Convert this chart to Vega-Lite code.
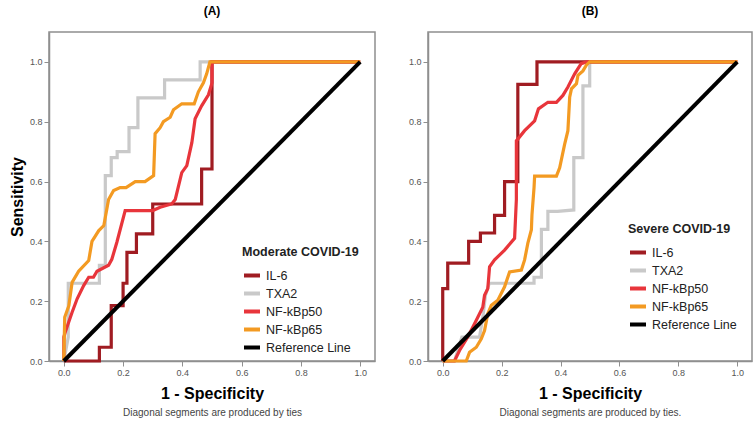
{
  "$schema": "https://vega.github.io/schema/vega-lite/v6.json",
  "padding": {"left": 8, "top": 4, "right": 0, "bottom": 0},
  "spacing": 31,
  "config": {
    "font": "Liberation Sans",
    "view": {"stroke": "#8f8f8f", "strokeWidth": 1.5},
    "axis": {"grid": false, "domainColor": "#8f8f8f", "domainWidth": 1.5, "tickColor": "#8f8f8f", "tickSize": 5, "labelFontSize": 9, "labelColor": "#555555", "labelPadding": 2},
    "title": {"fontSize": 12, "fontWeight": "bold", "anchor": "middle", "offset": 14, "color": "#000000"},
    "legend": {"titleFontSize": 12.5, "titleFontWeight": "bold", "titleColor": "#222222", "labelFontSize": 12.5, "labelColor": "#222222", "symbolType": "stroke", "symbolSize": 256, "symbolStrokeWidth": 4, "rowPadding": 0, "titlePadding": 7, "labelOffset": 4}
  },
  "datasets": {
    "ref": [
      {"s": "Reference Line", "x": 0, "y": 0, "i": 0},
      {"s": "Reference Line", "x": 1, "y": 1, "i": 1}
    ],
    "A": [
      {"s": "TXA2", "x": 0, "y": 0, "i": 0},
      {"s": "TXA2", "x": 0.015, "y": 0.08, "i": 1},
      {"s": "TXA2", "x": 0.015, "y": 0.26, "i": 2},
      {"s": "TXA2", "x": 0.12, "y": 0.26, "i": 3},
      {"s": "TXA2", "x": 0.12, "y": 0.32, "i": 4},
      {"s": "TXA2", "x": 0.14, "y": 0.32, "i": 5},
      {"s": "TXA2", "x": 0.14, "y": 0.62, "i": 6},
      {"s": "TXA2", "x": 0.16, "y": 0.62, "i": 7},
      {"s": "TXA2", "x": 0.16, "y": 0.68, "i": 8},
      {"s": "TXA2", "x": 0.18, "y": 0.68, "i": 9},
      {"s": "TXA2", "x": 0.18, "y": 0.70, "i": 10},
      {"s": "TXA2", "x": 0.22, "y": 0.70, "i": 11},
      {"s": "TXA2", "x": 0.22, "y": 0.78, "i": 12},
      {"s": "TXA2", "x": 0.25, "y": 0.78, "i": 13},
      {"s": "TXA2", "x": 0.25, "y": 0.88, "i": 14},
      {"s": "TXA2", "x": 0.34, "y": 0.88, "i": 15},
      {"s": "TXA2", "x": 0.34, "y": 0.94, "i": 16},
      {"s": "TXA2", "x": 0.46, "y": 0.94, "i": 17},
      {"s": "TXA2", "x": 0.46, "y": 1.0, "i": 18},
      {"s": "TXA2", "x": 1.0, "y": 1.0, "i": 19},
      {"s": "IL-6", "x": 0, "y": 0, "i": 0},
      {"s": "IL-6", "x": 0.12, "y": 0, "i": 1},
      {"s": "IL-6", "x": 0.12, "y": 0.046, "i": 2},
      {"s": "IL-6", "x": 0.16, "y": 0.046, "i": 3},
      {"s": "IL-6", "x": 0.16, "y": 0.185, "i": 4},
      {"s": "IL-6", "x": 0.20, "y": 0.185, "i": 5},
      {"s": "IL-6", "x": 0.20, "y": 0.26, "i": 6},
      {"s": "IL-6", "x": 0.213, "y": 0.26, "i": 7},
      {"s": "IL-6", "x": 0.213, "y": 0.363, "i": 8},
      {"s": "IL-6", "x": 0.245, "y": 0.363, "i": 9},
      {"s": "IL-6", "x": 0.245, "y": 0.425, "i": 10},
      {"s": "IL-6", "x": 0.30, "y": 0.425, "i": 11},
      {"s": "IL-6", "x": 0.30, "y": 0.525, "i": 12},
      {"s": "IL-6", "x": 0.465, "y": 0.525, "i": 13},
      {"s": "IL-6", "x": 0.465, "y": 0.642, "i": 14},
      {"s": "IL-6", "x": 0.50, "y": 0.642, "i": 15},
      {"s": "IL-6", "x": 0.50, "y": 1.0, "i": 16},
      {"s": "IL-6", "x": 1.0, "y": 1.0, "i": 17},
      {"s": "NF-kBp50", "x": 0, "y": 0, "i": 0},
      {"s": "NF-kBp50", "x": 0, "y": 0.08, "i": 1},
      {"s": "NF-kBp50", "x": 0.005, "y": 0.097, "i": 2},
      {"s": "NF-kBp50", "x": 0.028, "y": 0.163, "i": 3},
      {"s": "NF-kBp50", "x": 0.045, "y": 0.208, "i": 4},
      {"s": "NF-kBp50", "x": 0.067, "y": 0.252, "i": 5},
      {"s": "NF-kBp50", "x": 0.084, "y": 0.28, "i": 6},
      {"s": "NF-kBp50", "x": 0.10, "y": 0.28, "i": 7},
      {"s": "NF-kBp50", "x": 0.112, "y": 0.30, "i": 8},
      {"s": "NF-kBp50", "x": 0.151, "y": 0.32, "i": 9},
      {"s": "NF-kBp50", "x": 0.162, "y": 0.34, "i": 10},
      {"s": "NF-kBp50", "x": 0.179, "y": 0.397, "i": 11},
      {"s": "NF-kBp50", "x": 0.207, "y": 0.503, "i": 12},
      {"s": "NF-kBp50", "x": 0.30, "y": 0.503, "i": 13},
      {"s": "NF-kBp50", "x": 0.325, "y": 0.514, "i": 14},
      {"s": "NF-kBp50", "x": 0.364, "y": 0.525, "i": 15},
      {"s": "NF-kBp50", "x": 0.376, "y": 0.54, "i": 16},
      {"s": "NF-kBp50", "x": 0.398, "y": 0.63, "i": 17},
      {"s": "NF-kBp50", "x": 0.415, "y": 0.653, "i": 18},
      {"s": "NF-kBp50", "x": 0.432, "y": 0.73, "i": 19},
      {"s": "NF-kBp50", "x": 0.443, "y": 0.81, "i": 20},
      {"s": "NF-kBp50", "x": 0.465, "y": 0.853, "i": 21},
      {"s": "NF-kBp50", "x": 0.488, "y": 0.89, "i": 22},
      {"s": "NF-kBp50", "x": 0.50, "y": 0.93, "i": 23},
      {"s": "NF-kBp50", "x": 0.50, "y": 1.0, "i": 24},
      {"s": "NF-kBp50", "x": 1.0, "y": 1.0, "i": 25},
      {"s": "NF-kBp65", "x": 0, "y": 0, "i": 0},
      {"s": "NF-kBp65", "x": 0.003, "y": 0.146, "i": 1},
      {"s": "NF-kBp65", "x": 0.017, "y": 0.185, "i": 2},
      {"s": "NF-kBp65", "x": 0.028, "y": 0.263, "i": 3},
      {"s": "NF-kBp65", "x": 0.05, "y": 0.30, "i": 4},
      {"s": "NF-kBp65", "x": 0.084, "y": 0.336, "i": 5},
      {"s": "NF-kBp65", "x": 0.095, "y": 0.40, "i": 6},
      {"s": "NF-kBp65", "x": 0.118, "y": 0.436, "i": 7},
      {"s": "NF-kBp65", "x": 0.135, "y": 0.453, "i": 8},
      {"s": "NF-kBp65", "x": 0.151, "y": 0.54, "i": 9},
      {"s": "NF-kBp65", "x": 0.168, "y": 0.57, "i": 10},
      {"s": "NF-kBp65", "x": 0.19, "y": 0.58, "i": 11},
      {"s": "NF-kBp65", "x": 0.21, "y": 0.58, "i": 12},
      {"s": "NF-kBp65", "x": 0.241, "y": 0.60, "i": 13},
      {"s": "NF-kBp65", "x": 0.274, "y": 0.60, "i": 14},
      {"s": "NF-kBp65", "x": 0.303, "y": 0.62, "i": 15},
      {"s": "NF-kBp65", "x": 0.308, "y": 0.76, "i": 16},
      {"s": "NF-kBp65", "x": 0.325, "y": 0.78, "i": 17},
      {"s": "NF-kBp65", "x": 0.336, "y": 0.80, "i": 18},
      {"s": "NF-kBp65", "x": 0.359, "y": 0.815, "i": 19},
      {"s": "NF-kBp65", "x": 0.37, "y": 0.84, "i": 20},
      {"s": "NF-kBp65", "x": 0.398, "y": 0.86, "i": 21},
      {"s": "NF-kBp65", "x": 0.44, "y": 0.86, "i": 22},
      {"s": "NF-kBp65", "x": 0.454, "y": 0.90, "i": 23},
      {"s": "NF-kBp65", "x": 0.471, "y": 0.93, "i": 24},
      {"s": "NF-kBp65", "x": 0.482, "y": 0.96, "i": 25},
      {"s": "NF-kBp65", "x": 0.493, "y": 1.0, "i": 26},
      {"s": "NF-kBp65", "x": 1.0, "y": 1.0, "i": 27}
    ],
    "B": [
      {"s": "TXA2", "x": 0, "y": 0, "i": 0},
      {"s": "TXA2", "x": 0.04, "y": 0, "i": 1},
      {"s": "TXA2", "x": 0.065, "y": 0.08, "i": 2},
      {"s": "TXA2", "x": 0.125, "y": 0.08, "i": 3},
      {"s": "TXA2", "x": 0.138, "y": 0.16, "i": 4},
      {"s": "TXA2", "x": 0.145, "y": 0.22, "i": 5},
      {"s": "TXA2", "x": 0.158, "y": 0.26, "i": 6},
      {"s": "TXA2", "x": 0.31, "y": 0.26, "i": 7},
      {"s": "TXA2", "x": 0.31, "y": 0.28, "i": 8},
      {"s": "TXA2", "x": 0.335, "y": 0.28, "i": 9},
      {"s": "TXA2", "x": 0.335, "y": 0.44, "i": 10},
      {"s": "TXA2", "x": 0.357, "y": 0.44, "i": 11},
      {"s": "TXA2", "x": 0.357, "y": 0.50, "i": 12},
      {"s": "TXA2", "x": 0.39, "y": 0.50, "i": 13},
      {"s": "TXA2", "x": 0.445, "y": 0.505, "i": 14},
      {"s": "TXA2", "x": 0.445, "y": 0.68, "i": 15},
      {"s": "TXA2", "x": 0.476, "y": 0.68, "i": 16},
      {"s": "TXA2", "x": 0.476, "y": 0.92, "i": 17},
      {"s": "TXA2", "x": 0.499, "y": 0.92, "i": 18},
      {"s": "TXA2", "x": 0.499, "y": 1.0, "i": 19},
      {"s": "TXA2", "x": 1.0, "y": 1.0, "i": 20},
      {"s": "IL-6", "x": 0, "y": 0, "i": 0},
      {"s": "IL-6", "x": 0, "y": 0.242, "i": 1},
      {"s": "IL-6", "x": 0.017, "y": 0.242, "i": 2},
      {"s": "IL-6", "x": 0.017, "y": 0.327, "i": 3},
      {"s": "IL-6", "x": 0.088, "y": 0.327, "i": 4},
      {"s": "IL-6", "x": 0.088, "y": 0.40, "i": 5},
      {"s": "IL-6", "x": 0.128, "y": 0.40, "i": 6},
      {"s": "IL-6", "x": 0.128, "y": 0.428, "i": 7},
      {"s": "IL-6", "x": 0.176, "y": 0.428, "i": 8},
      {"s": "IL-6", "x": 0.176, "y": 0.487, "i": 9},
      {"s": "IL-6", "x": 0.21, "y": 0.487, "i": 10},
      {"s": "IL-6", "x": 0.21, "y": 0.60, "i": 11},
      {"s": "IL-6", "x": 0.255, "y": 0.60, "i": 12},
      {"s": "IL-6", "x": 0.255, "y": 0.925, "i": 13},
      {"s": "IL-6", "x": 0.32, "y": 0.925, "i": 14},
      {"s": "IL-6", "x": 0.32, "y": 1.0, "i": 15},
      {"s": "IL-6", "x": 1.0, "y": 1.0, "i": 16},
      {"s": "NF-kBp50", "x": 0, "y": 0, "i": 0},
      {"s": "NF-kBp50", "x": 0.04, "y": 0, "i": 1},
      {"s": "NF-kBp50", "x": 0.057, "y": 0.035, "i": 2},
      {"s": "NF-kBp50", "x": 0.085, "y": 0.08, "i": 3},
      {"s": "NF-kBp50", "x": 0.114, "y": 0.136, "i": 4},
      {"s": "NF-kBp50", "x": 0.136, "y": 0.18, "i": 5},
      {"s": "NF-kBp50", "x": 0.142, "y": 0.22, "i": 6},
      {"s": "NF-kBp50", "x": 0.153, "y": 0.242, "i": 7},
      {"s": "NF-kBp50", "x": 0.159, "y": 0.315, "i": 8},
      {"s": "NF-kBp50", "x": 0.176, "y": 0.338, "i": 9},
      {"s": "NF-kBp50", "x": 0.21, "y": 0.371, "i": 10},
      {"s": "NF-kBp50", "x": 0.244, "y": 0.41, "i": 11},
      {"s": "NF-kBp50", "x": 0.25, "y": 0.54, "i": 12},
      {"s": "NF-kBp50", "x": 0.25, "y": 0.736, "i": 13},
      {"s": "NF-kBp50", "x": 0.278, "y": 0.77, "i": 14},
      {"s": "NF-kBp50", "x": 0.312, "y": 0.803, "i": 15},
      {"s": "NF-kBp50", "x": 0.325, "y": 0.843, "i": 16},
      {"s": "NF-kBp50", "x": 0.357, "y": 0.865, "i": 17},
      {"s": "NF-kBp50", "x": 0.386, "y": 0.865, "i": 18},
      {"s": "NF-kBp50", "x": 0.408, "y": 0.888, "i": 19},
      {"s": "NF-kBp50", "x": 0.425, "y": 0.916, "i": 20},
      {"s": "NF-kBp50", "x": 0.448, "y": 0.96, "i": 21},
      {"s": "NF-kBp50", "x": 0.47, "y": 0.994, "i": 22},
      {"s": "NF-kBp50", "x": 0.488, "y": 1.0, "i": 23},
      {"s": "NF-kBp50", "x": 1.0, "y": 1.0, "i": 24},
      {"s": "NF-kBp65", "x": 0, "y": 0, "i": 0},
      {"s": "NF-kBp65", "x": 0.08, "y": 0, "i": 1},
      {"s": "NF-kBp65", "x": 0.091, "y": 0.029, "i": 2},
      {"s": "NF-kBp65", "x": 0.114, "y": 0.046, "i": 3},
      {"s": "NF-kBp65", "x": 0.131, "y": 0.074, "i": 4},
      {"s": "NF-kBp65", "x": 0.142, "y": 0.102, "i": 5},
      {"s": "NF-kBp65", "x": 0.153, "y": 0.158, "i": 6},
      {"s": "NF-kBp65", "x": 0.165, "y": 0.186, "i": 7},
      {"s": "NF-kBp65", "x": 0.187, "y": 0.203, "i": 8},
      {"s": "NF-kBp65", "x": 0.21, "y": 0.248, "i": 9},
      {"s": "NF-kBp65", "x": 0.227, "y": 0.298, "i": 10},
      {"s": "NF-kBp65", "x": 0.267, "y": 0.304, "i": 11},
      {"s": "NF-kBp65", "x": 0.278, "y": 0.338, "i": 12},
      {"s": "NF-kBp65", "x": 0.289, "y": 0.394, "i": 13},
      {"s": "NF-kBp65", "x": 0.301, "y": 0.439, "i": 14},
      {"s": "NF-kBp65", "x": 0.303, "y": 0.489, "i": 15},
      {"s": "NF-kBp65", "x": 0.31, "y": 0.58, "i": 16},
      {"s": "NF-kBp65", "x": 0.312, "y": 0.618, "i": 17},
      {"s": "NF-kBp65", "x": 0.386, "y": 0.618, "i": 18},
      {"s": "NF-kBp65", "x": 0.397, "y": 0.646, "i": 19},
      {"s": "NF-kBp65", "x": 0.414, "y": 0.725, "i": 20},
      {"s": "NF-kBp65", "x": 0.425, "y": 0.77, "i": 21},
      {"s": "NF-kBp65", "x": 0.431, "y": 0.882, "i": 22},
      {"s": "NF-kBp65", "x": 0.437, "y": 0.91, "i": 23},
      {"s": "NF-kBp65", "x": 0.454, "y": 0.927, "i": 24},
      {"s": "NF-kBp65", "x": 0.459, "y": 0.955, "i": 25},
      {"s": "NF-kBp65", "x": 0.476, "y": 0.97, "i": 26},
      {"s": "NF-kBp65", "x": 0.488, "y": 0.99, "i": 27},
      {"s": "NF-kBp65", "x": 0.499, "y": 1.0, "i": 28},
      {"s": "NF-kBp65", "x": 1.0, "y": 1.0, "i": 29}
    ]
  },
  "hconcat": [
    {
      "width": 326,
      "height": 329,
      "title": {"text": "(A)"},
      "resolve": {"axis": {"x": "independent"}},
      "layer": [
        {
          "data": {"name": "A"},
          "mark": {"type": "line", "strokeWidth": 3.2},
          "encoding": {
            "x": {"field": "x", "type": "quantitative", "scale": {"domain": [-0.05, 1.05], "nice": false, "zero": false},
                  "axis": {"orient": "bottom", "values": [0, 0.2, 0.4, 0.6, 0.8, 1.0], "format": ".1f", "title": "1 - Specificity", "titleFontSize": 16, "titleFontWeight": "bold", "titleColor": "#000000", "titlePadding": 8}},
            "y": {"field": "y", "type": "quantitative", "scale": {"domain": [0, 1.1], "nice": false},
                  "axis": {"values": [0, 0.2, 0.4, 0.6, 0.8, 1.0], "format": ".1f", "title": "Sensitivity", "titleFontSize": 16, "titleFontWeight": "bold", "titleColor": "#000000", "titlePadding": 4}},
            "color": {"field": "s", "type": "nominal",
                      "scale": {"domain": ["IL-6", "TXA2", "NF-kBp50", "NF-kBp65", "Reference Line"], "range": ["#A01C22", "#C9C9C9", "#E8353B", "#F39A22", "#000000"]},
                      "legend": {"title": "Moderate COVID-19", "orient": "none", "legendX": 193, "legendY": 214}},
            "order": {"field": "i", "type": "quantitative"}
          }
        },
        {
          "data": {"name": "ref"},
          "mark": {"type": "line", "strokeWidth": 4},
          "encoding": {
            "x": {"field": "x", "type": "quantitative",
                  "axis": {"orient": "bottom", "title": "Diagonal segments are produced by ties", "labels": false, "ticks": false, "domain": false, "titleFontSize": 10, "titleFontWeight": "normal", "titleColor": "#444444", "titlePadding": 46}},
            "y": {"field": "y", "type": "quantitative"},
            "color": {"field": "s", "type": "nominal"},
            "order": {"field": "i", "type": "quantitative"}
          }
        }
      ]
    },
    {
      "width": 324,
      "height": 329,
      "title": {"text": "(B)"},
      "resolve": {"axis": {"x": "independent"}},
      "layer": [
        {
          "data": {"name": "B"},
          "mark": {"type": "line", "strokeWidth": 3.2},
          "encoding": {
            "x": {"field": "x", "type": "quantitative", "scale": {"domain": [-0.05, 1.05], "nice": false, "zero": false},
                  "axis": {"orient": "bottom", "values": [0, 0.2, 0.4, 0.6, 0.8, 1.0], "format": ".1f", "title": "1 - Specificity", "titleFontSize": 16, "titleFontWeight": "bold", "titleColor": "#000000", "titlePadding": 8}},
            "y": {"field": "y", "type": "quantitative", "scale": {"domain": [0, 1.1], "nice": false},
                  "axis": {"values": [0, 0.2, 0.4, 0.6, 0.8, 1.0], "format": ".1f", "title": null}},
            "color": {"field": "s", "type": "nominal",
                      "scale": {"domain": ["IL-6", "TXA2", "NF-kBp50", "NF-kBp65", "Reference Line"], "range": ["#A01C22", "#C9C9C9", "#E8353B", "#F39A22", "#000000"]},
                      "legend": {"title": "Severe COVID-19", "orient": "none", "legendX": 200, "legendY": 191}},
            "order": {"field": "i", "type": "quantitative"}
          }
        },
        {
          "data": {"name": "ref"},
          "mark": {"type": "line", "strokeWidth": 4},
          "encoding": {
            "x": {"field": "x", "type": "quantitative",
                  "axis": {"orient": "bottom", "title": "Diagonal segments are produced by ties.", "labels": false, "ticks": false, "domain": false, "titleFontSize": 10, "titleFontWeight": "normal", "titleColor": "#444444", "titlePadding": 46}},
            "y": {"field": "y", "type": "quantitative"},
            "color": {"field": "s", "type": "nominal"},
            "order": {"field": "i", "type": "quantitative"}
          }
        }
      ]
    }
  ],
  "resolve": {"scale": {"color": "independent"}, "legend": {"color": "independent"}}
}
